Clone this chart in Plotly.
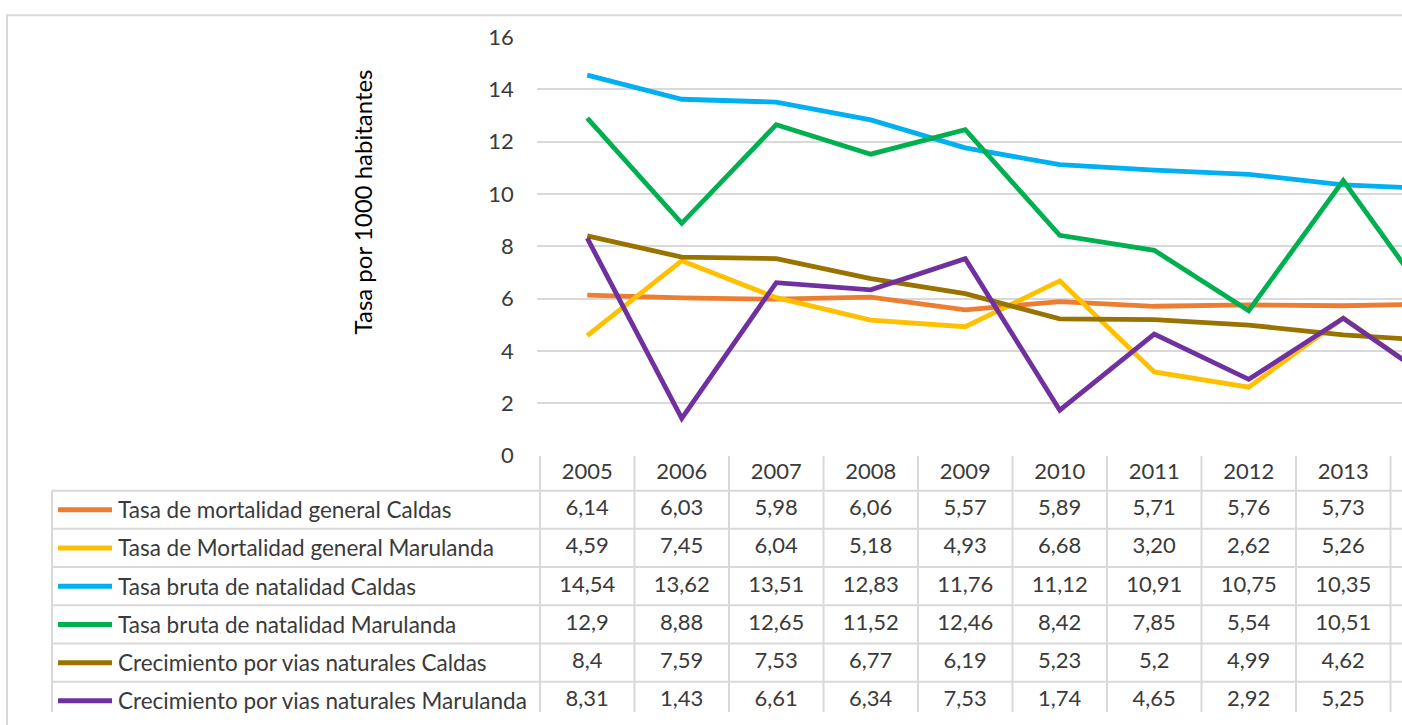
import plotly.graph_objects as go

# ---------------- data ----------------
years = ["2005", "2006", "2007", "2008", "2009", "2010", "2011", "2012", "2013", "2014"]

series_names = [
    "Tasa de mortalidad general Caldas",
    "Tasa de Mortalidad general Marulanda",
    "Tasa bruta de natalidad Caldas",
    "Tasa bruta de natalidad Marulanda",
    "Crecimiento por vias naturales Caldas",
    "Crecimiento por vias naturales Marulanda",
]

mort_caldas = [6.14, 6.03, 5.98, 6.06, 5.57, 5.89, 5.71, 5.76, 5.73, 5.80]
mort_marulanda = [4.59, 7.45, 6.04, 5.18, 4.93, 6.68, 3.20, 2.62, 5.26, 2.75]
nat_caldas = [14.54, 13.62, 13.51, 12.83, 11.76, 11.12, 10.91, 10.75, 10.35, 10.19]
nat_marulanda = [12.9, 8.88, 12.65, 11.52, 12.46, 8.42, 7.85, 5.54, 10.51, 5.50]
crec_caldas = [8.4, 7.59, 7.53, 6.77, 6.19, 5.23, 5.2, 4.99, 4.62, 4.39]
crec_marulanda = [8.31, 1.43, 6.61, 6.34, 7.53, 1.74, 4.65, 2.92, 5.25, 2.75]

series_values = [mort_caldas, mort_marulanda, nat_caldas, nat_marulanda, crec_caldas, crec_marulanda]
series_decimals = [2, 2, 2, None, None, None]   # how the table prints each row

y_ticks = [0, 2, 4, 6, 8, 10, 12, 14, 16]
y_title = "Tasa por 1000 habitantes"

# ---------------- style ----------------
colors = ["#ED7D31", "#FFC000", "#00B0F0", "#00B050", "#997300", "#7030A0"]
W, H = 1402, 725
FONT = "Lato"
FS_NUM = 22
FS_LBL = 22.5
FS_TITLE = 24
TXT = "#3a3a3a"
GRID = "#D9D9D9"

# vertical placement: the page is shown slightly squeezed, so target
# positions (in screen px) are converted to figure px here
V_OFF, V_SCALE = 10.0, 700.0 / 725.0


def ry(p):
    return (p - V_OFF) / V_SCALE


plot_top_px = ry(33)
plot_bottom_px = ry(453)
row_top_px = ry(488)
row_h = (ry(718) - row_top_px) / 6
table_bottom_px = ry(718)
col_w = 94.5
first_col_left_px = 540
table_left_px = 52

x_start = -0.53
x_left_px = first_col_left_px + (x_start + 0.5) * col_w
x_end = x_start + (W - x_left_px) / col_w


def px_x(p):
    return p / W


def px_y(p):
    return (H - p) / H


def fmt(v, d):
    s = f"{v:.{d}f}" if d is not None else f"{v:g}"
    return s.replace(".", ",")


y2_lo = -(H - table_bottom_px) / row_h
y2_hi = (table_bottom_px - plot_bottom_px) / row_h
n_rows = len(series_names)

# table columns whose text lies inside the visible part of the chart
vis_idx = [i for i in range(len(years)) if i + 0.4 <= x_end]
vis_years = [years[i] for i in vis_idx]

fig = go.Figure()

# chart lines
for name, vals, col in zip(series_names, series_values, colors):
    fig.add_trace(go.Scatter(
        x=years, y=vals, name=name, mode="lines",
        line=dict(color=col, width=4.8),
        xaxis="x", yaxis="y", showlegend=False, hoverinfo="x+y+name",
    ))

# data table header
header_y = 6 + (y2_hi - 6) / 2
fig.add_trace(go.Scatter(
    x=vis_years, y=[header_y] * len(vis_years), text=vis_years, mode="text",
    textfont=dict(family=FONT, size=FS_NUM, color=TXT),
    xaxis="x2", yaxis="y2", showlegend=False, hoverinfo="skip",
))

# data table rows
for i, (vals, dec) in enumerate(zip(series_values, series_decimals)):
    yrow = n_rows - 0.5 - i
    fig.add_trace(go.Scatter(
        x=vis_years, y=[yrow] * len(vis_years), text=[fmt(vals[j], dec) for j in vis_idx],
        mode="text", textfont=dict(family=FONT, size=FS_NUM, color=TXT),
        xaxis="x2", yaxis="y2", showlegend=False, hoverinfo="skip",
    ))

shapes = []
# horizontal table lines
for k in range(n_rows + 1):
    shapes.append(dict(type="line", xref="paper", yref="y2", x0=px_x(table_left_px), x1=1.05,
                       y0=k, y1=k, line=dict(color=GRID, width=2)))
# left border of legend column
shapes.append(dict(type="line", xref="paper", yref="y2", x0=px_x(table_left_px), x1=px_x(table_left_px),
                   y0=y2_lo, y1=n_rows, line=dict(color=GRID, width=2)))
# column boundaries
for k in range(len(years) + 1):
    shapes.append(dict(type="line", xref="x2", yref="y2", x0=k - 0.5, x1=k - 0.5,
                       y0=y2_lo, y1=y2_hi, line=dict(color=GRID, width=2)))
# legend keys
annotations = []
for i, (name, col) in enumerate(zip(series_names, colors)):
    yrow = n_rows - 0.5 - i
    shapes.append(dict(type="line", xref="paper", yref="y2", x0=px_x(58), x1=px_x(112),
                       y0=yrow, y1=yrow, line=dict(color=col, width=5)))
    annotations.append(dict(xref="paper", yref="y2", x=px_x(116), y=yrow, text=name,
                            showarrow=False, xanchor="left", yanchor="middle",
                            font=dict(family=FONT, size=FS_LBL, color=TXT)))
# outer chart border (top edge sits at the very top of the figure)
shapes.append(dict(type="rect", xref="paper", yref="paper", x0=px_x(7), x1=1.1,
                   y0=-0.1, y1=px_y(1.2), line=dict(color=GRID, width=2), fillcolor="rgba(0,0,0,0)"))

# y axis title
annotations.append(dict(xref="paper", yref="paper", x=px_x(362), y=px_y(ry(199)), text=y_title,
                        textangle=-90, showarrow=False, xanchor="center", yanchor="middle",
                        font=dict(family=FONT, size=FS_TITLE, color="#000000")))

fig.update_layout(
    width=W, height=H,
    margin=dict(l=0, r=0, t=0, b=0),
    paper_bgcolor="white", plot_bgcolor="white",
    font=dict(family=FONT, size=FS_NUM, color=TXT),
    xaxis=dict(type="category", categoryorder="array", categoryarray=years,
               domain=[px_x(x_left_px), 1], range=[x_start, x_end], anchor="y",
               showgrid=False, showticklabels=False, zeroline=False, showline=False, ticks=""),
    yaxis=dict(domain=[px_y(plot_bottom_px), px_y(plot_top_px)], range=[0, 16],
               tickvals=y_ticks, ticktext=[str(v) for v in y_ticks],
               showgrid=True, gridcolor=GRID, gridwidth=2, zeroline=False, showline=False,
               ticks="outside", ticklen=18, tickcolor="rgba(0,0,0,0)",
               tickfont=dict(family=FONT, size=FS_NUM, color=TXT), anchor="x"),
    xaxis2=dict(type="category", categoryorder="array", categoryarray=years, matches="x",
                domain=[px_x(x_left_px), 1], anchor="y2",
                showgrid=False, showticklabels=False, zeroline=False, showline=False, ticks=""),
    yaxis2=dict(domain=[0, px_y(plot_bottom_px)], range=[y2_lo, y2_hi], anchor="x2",
                showgrid=False, showticklabels=False, zeroline=False, showline=False, ticks=""),
    shapes=shapes,
    annotations=annotations,
)

page_fix = (
    "document.documentElement.style.margin='0';"
    "document.body.style.margin='0';"
    "document.body.style.padding='0';"
    "document.body.style.overflow='hidden';"
)

fig.write_html(
    "out.html",
    config={"displayModeBar": False},
    post_script=page_fix,
)
